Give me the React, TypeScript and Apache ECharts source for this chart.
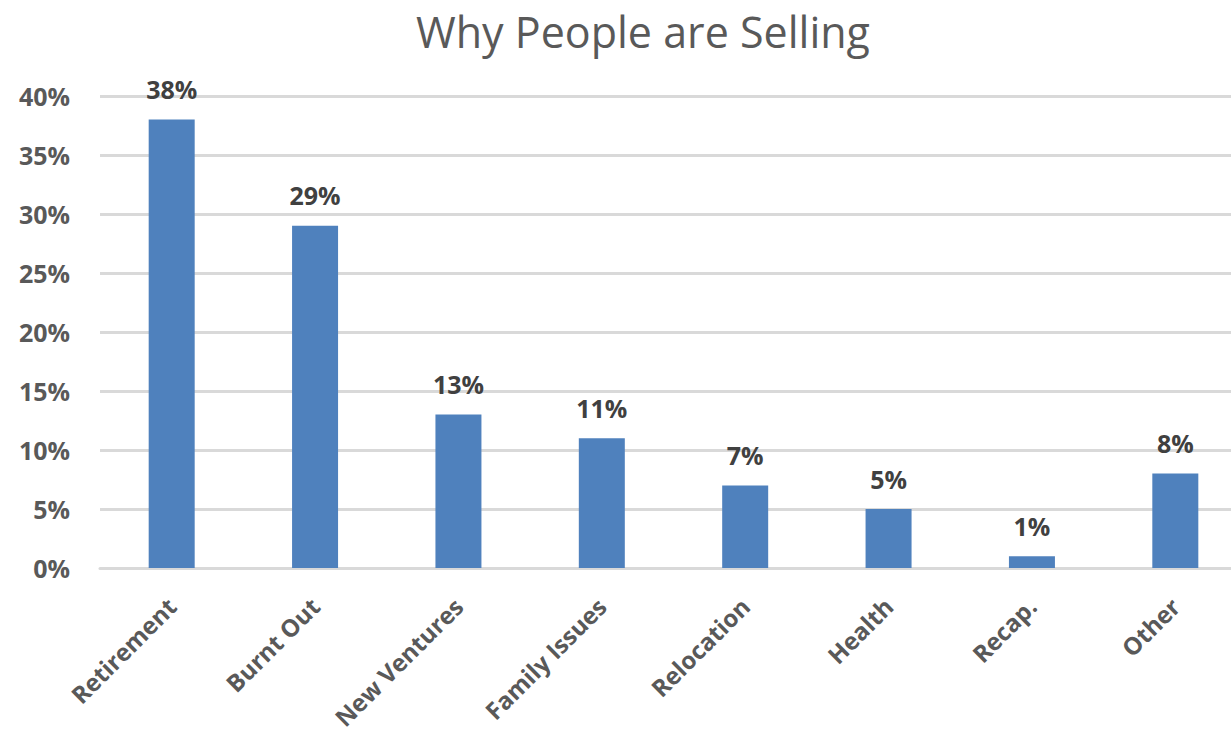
import React, { useEffect, useRef } from "react";
import * as echarts from "echarts";

const categories = ["Retirement", "Burnt Out", "New Ventures", "Family Issues", "Relocation", "Health", "Recap.", "Other"];
const values = [38, 29, 13, 11, 7, 5, 1, 8];
const yTicks = [0, 5, 10, 15, 20, 25, 30, 35, 40];

export default function App() {
  const ref = useRef<HTMLDivElement>(null);
  useEffect(() => {
    document.body.style.margin = "0";
    const chart = echarts.init(ref.current!, null, { renderer: "svg" });
    const font = "'Open Sans', 'Liberation Sans', sans-serif";
    chart.setOption({
      animation: false,
      backgroundColor: "#ffffff",
      title: {
        text: "Why People are Selling",
        left: 638,
        textAlign: "center",
        top: 5,
        textStyle: { fontFamily: font, fontSize: 43, fontWeight: "normal", color: "#595959" },
      },
      grid: { left: 100, top: 96, width: 1147, height: 472 },
      xAxis: {
        type: "category",
        data: categories,
        axisLine: { show: true, lineStyle: { color: "#d9d9d9", width: 3 } },
        axisTick: { show: false },
        axisLabel: {
          rotate: 45,
          interval: 0,
          margin: 34,
          fontFamily: font,
          fontSize: 24,
          fontWeight: "bold",
          color: "#595959",
        },
      },
      yAxis: {
        type: "value",
        min: yTicks[0],
        max: yTicks[yTicks.length - 1],
        interval: 5,
        axisLine: { show: false },
        axisTick: { show: false },
        splitLine: { lineStyle: { color: "#d9d9d9", width: 3 } },
        axisLabel: {
          formatter: "{value}%",
          margin: 30,
          fontFamily: font,
          fontSize: 25,
          fontWeight: "bold",
          color: "#595959",
        },
      },
      series: [
        {
          type: "bar",
          data: values,
          barWidth: 46,
          itemStyle: { color: "#4f81bd" },
          label: {
            show: true,
            position: "top",
            distance: 18,
            formatter: "{c}%",
            fontFamily: font,
            fontSize: 25,
            fontWeight: "bold",
            color: "#404040",
          },
        },
      ],
    });
    return () => chart.dispose();
  }, []);
  return (
    <div style={{ width: 1231, height: 741, overflow: "hidden", position: "relative" }}>
      <div ref={ref} style={{ width: 1247, height: 741 }} />
    </div>
  );
}
